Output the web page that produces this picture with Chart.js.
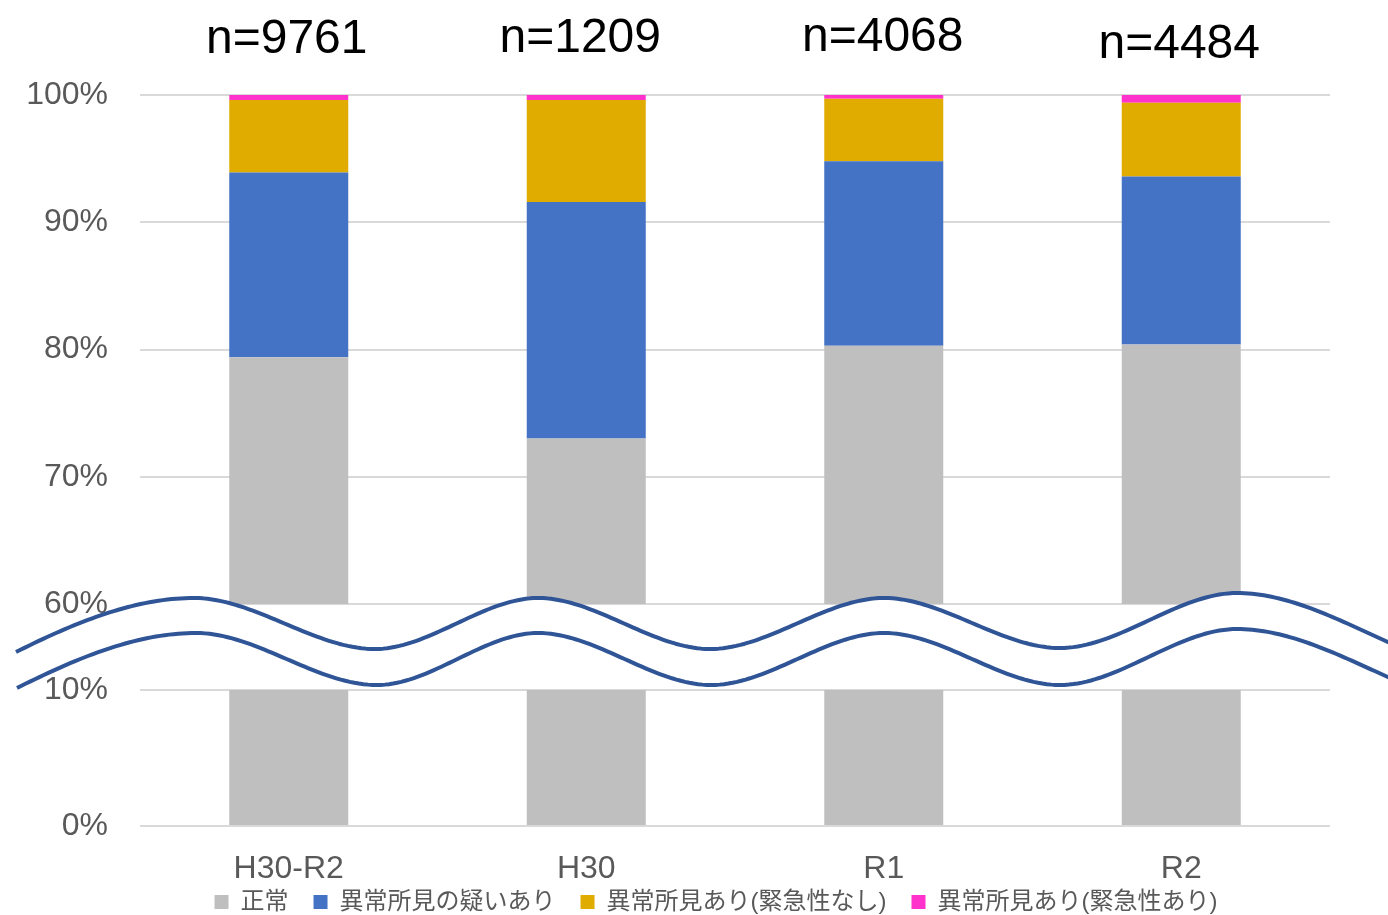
<!DOCTYPE html>
<html lang="ja">
<head>
<meta charset="utf-8">
<title>健診結果の内訳</title>
<script src="https://cdn.jsdelivr.net/npm/chart.js@4.4.1/dist/chart.umd.min.js"></script>
<style>
  html, body { margin: 0; padding: 0; background: #ffffff; overflow: hidden; }
  #wrap { position: relative; width: 1388px; height: 915px; background: #ffffff; overflow: hidden; }
  canvas { position: absolute; left: 0; }
  #upper { top: 0; }
  #lower { top: 640px; }
  #breakMark { top: 0; pointer-events: none; }
</style>
</head>
<body>
<div id="wrap">
  <canvas id="upper" width="1388" height="640"></canvas>
  <canvas id="lower" width="1388" height="305"></canvas>
  <canvas id="breakMark" width="1388" height="915"></canvas>
</div>
<script>
// Fiscal-year groups and number of examinees in each
const categories = ['H30-R2', 'H30', 'R1', 'R2'];
const sampleSizes = [9761, 1209, 4068, 4484];

// Share of each result class (%)
const normal = [79.4, 73.0, 80.3, 80.4];
const suspected = [14.5, 18.6, 14.5, 13.2];
const findingNonUrgent = [5.7, 8.0, 4.9, 5.8];
const findingUrgent = [0.4, 0.4, 0.3, 0.6];

const seriesNames = ['正常', '異常所見の疑いあり', '異常所見あり(緊急性なし)', '異常所見あり(緊急性あり)'];
const seriesValues = [normal, suspected, findingNonUrgent, findingUrgent];
const seriesColors = ['#bfbfbf', '#4472c4', '#e1ac00', '#ff33cc'];

// Axis ranges on either side of the break
const upperRange = [60, 100];
const lowerRange = [0, 10];
const tickStep = 10;

Chart.defaults.font.family = '"Liberation Sans", Arial, "Noto Sans CJK JP", sans-serif';
Chart.defaults.color = '#595959';

function makeDatasets() {
  return seriesNames.map((name, i) => ({
    label: name,
    data: seriesValues[i].slice(),
    backgroundColor: seriesColors[i],
    borderWidth: 0,
    categoryPercentage: 1.0,
    barPercentage: 0.4,
    stack: 'share'
  }));
}

// Invisible tick marks give the gap between the % labels and the plot
const gridStyle = {
  color: '#d9d9d9',
  lineWidth: 2,
  drawTicks: true,
  tickLength: 32,
  tickColor: 'rgba(0,0,0,0)'
};
const pctTicks = {
  stepSize: tickStep,
  padding: 0,
  color: '#595959',
  font: { size: 32 },
  callback: v => v + '%'
};

// Sample size captions above each column
const sampleSizeLabels = {
  id: 'sampleSizeLabels',
  afterDraw(chart, args, opts) {
    const { ctx } = chart;
    const xs = chart.scales.x;
    ctx.save();
    ctx.fillStyle = '#000000';
    ctx.font = '48px "Liberation Sans", Arial, sans-serif';
    ctx.textAlign = 'center';
    ctx.textBaseline = 'alphabetic';
    sampleSizes.forEach((n, i) => {
      const x = xs.getPixelForValue(i) + opts.shifts[i];
      ctx.fillText('n=' + n, x, opts.baselines[i]);
    });
    ctx.restore();
  }
};

// Moves the legend block after layout so it sits right under the category labels
const legendOffset = {
  id: 'legendOffset',
  afterLayout(chart, args, opts) {
    const lg = chart.legend;
    if (!lg) return;
    lg.left += opts.dx; lg.right += opts.dx;
    lg.top += opts.dy; lg.bottom += opts.dy;
  }
};

new Chart(document.getElementById('upper'), {
  type: 'bar',
  data: { labels: categories, datasets: makeDatasets() },
  options: {
    responsive: false,
    animation: false,
    devicePixelRatio: 1,
    layout: { padding: { top: 95, bottom: 36, left: 0, right: 58 } },
    plugins: {
      legend: { display: false },
      tooltip: { enabled: false },
      sampleSizeLabels: { shifts: [-2, -6, -1, -2], baselines: [53, 52, 51, 58] }
    },
    scales: {
      x: { display: false, stacked: true, offset: true },
      y: {
        stacked: true,
        min: upperRange[0],
        max: upperRange[1],
        grid: gridStyle,
        border: { display: false },
        ticks: pctTicks,
        afterFit: s => { s.width = 140; }
      }
    }
  },
  plugins: [sampleSizeLabels]
});

new Chart(document.getElementById('lower'), {
  type: 'bar',
  data: { labels: categories, datasets: makeDatasets() },
  options: {
    responsive: false,
    animation: false,
    devicePixelRatio: 1,
    layout: { padding: { top: 50, bottom: 0, left: 0, right: 58 } },
    plugins: {
      tooltip: { enabled: false },
      legendOffset: { dx: 51, dy: -21 },
      legend: {
        position: 'bottom',
        labels: {
          boxWidth: 14,
          boxHeight: 14,
          padding: 25,
          color: '#595959',
          font: { size: 24 }
        }
      }
    },
    scales: {
      x: {
        stacked: true,
        offset: true,
        grid: { display: false },
        border: { display: false },
        ticks: { padding: 16, color: '#595959', font: { size: 32 } },
        afterFit: s => { s.height = 60; }
      },
      y: {
        stacked: true,
        min: lowerRange[0],
        max: lowerRange[1],
        grid: gridStyle,
        border: { display: false },
        ticks: pctTicks,
        afterFit: s => { s.width = 140; }
      }
    }
  },
  plugins: [legendOffset]
});

// Wavy break mark between the two axis segments
(function drawBreak() {
  const ctx = document.getElementById('breakMark').getContext('2d');
  // [x, y, slope] knots of each wave
  const upperWave = [[16, 652, -0.5], [194, 598, 0], [375, 649, 0], [538, 598, 0], [710, 649, 0],
                     [884, 598, 0], [1060, 648, 0], [1237, 593, 0], [1390, 643, 0.45]];
  const lowerWave = [[17, 688, -0.5], [196, 633, 0], [377, 685, 0], [538, 633, 0], [711, 685, 0],
                     [884, 633, 0], [1060, 685, 0], [1237, 629, 0], [1390, 678, 0.45]];

  function sample(knots) {
    const out = [];
    for (let i = 0; i < knots.length - 1; i++) {
      const [x0, y0, m0] = knots[i];
      const [x1, y1, m1] = knots[i + 1];
      const dx = x1 - x0;
      const c1x = x0 + dx / 3, c1y = y0 + m0 * dx / 3;
      const c2x = x1 - dx / 3, c2y = y1 - m1 * dx / 3;
      for (let s = (i === 0 ? 0 : 1); s <= 40; s++) {
        const t = s / 40, u = 1 - t;
        out.push([
          u * u * u * x0 + 3 * u * u * t * c1x + 3 * u * t * t * c2x + t * t * t * x1,
          u * u * u * y0 + 3 * u * u * t * c1y + 3 * u * t * t * c2y + t * t * t * y1
        ]);
      }
    }
    return out;
  }

  const up = sample(upperWave);
  const lo = sample(lowerWave);

  ctx.beginPath();
  up.forEach((p, i) => (i ? ctx.lineTo(p[0], p[1]) : ctx.moveTo(p[0], p[1])));
  for (let i = lo.length - 1; i >= 0; i--) ctx.lineTo(lo[i][0], lo[i][1]);
  ctx.closePath();
  ctx.fillStyle = '#ffffff';
  ctx.fill();

  ctx.strokeStyle = '#2f5597';
  ctx.lineWidth = 4;
  ctx.lineJoin = 'round';
  [up, lo].forEach(line => {
    ctx.beginPath();
    line.forEach((p, i) => (i ? ctx.lineTo(p[0], p[1]) : ctx.moveTo(p[0], p[1])));
    ctx.stroke();
  });
})();
</script>
</body>
</html>
